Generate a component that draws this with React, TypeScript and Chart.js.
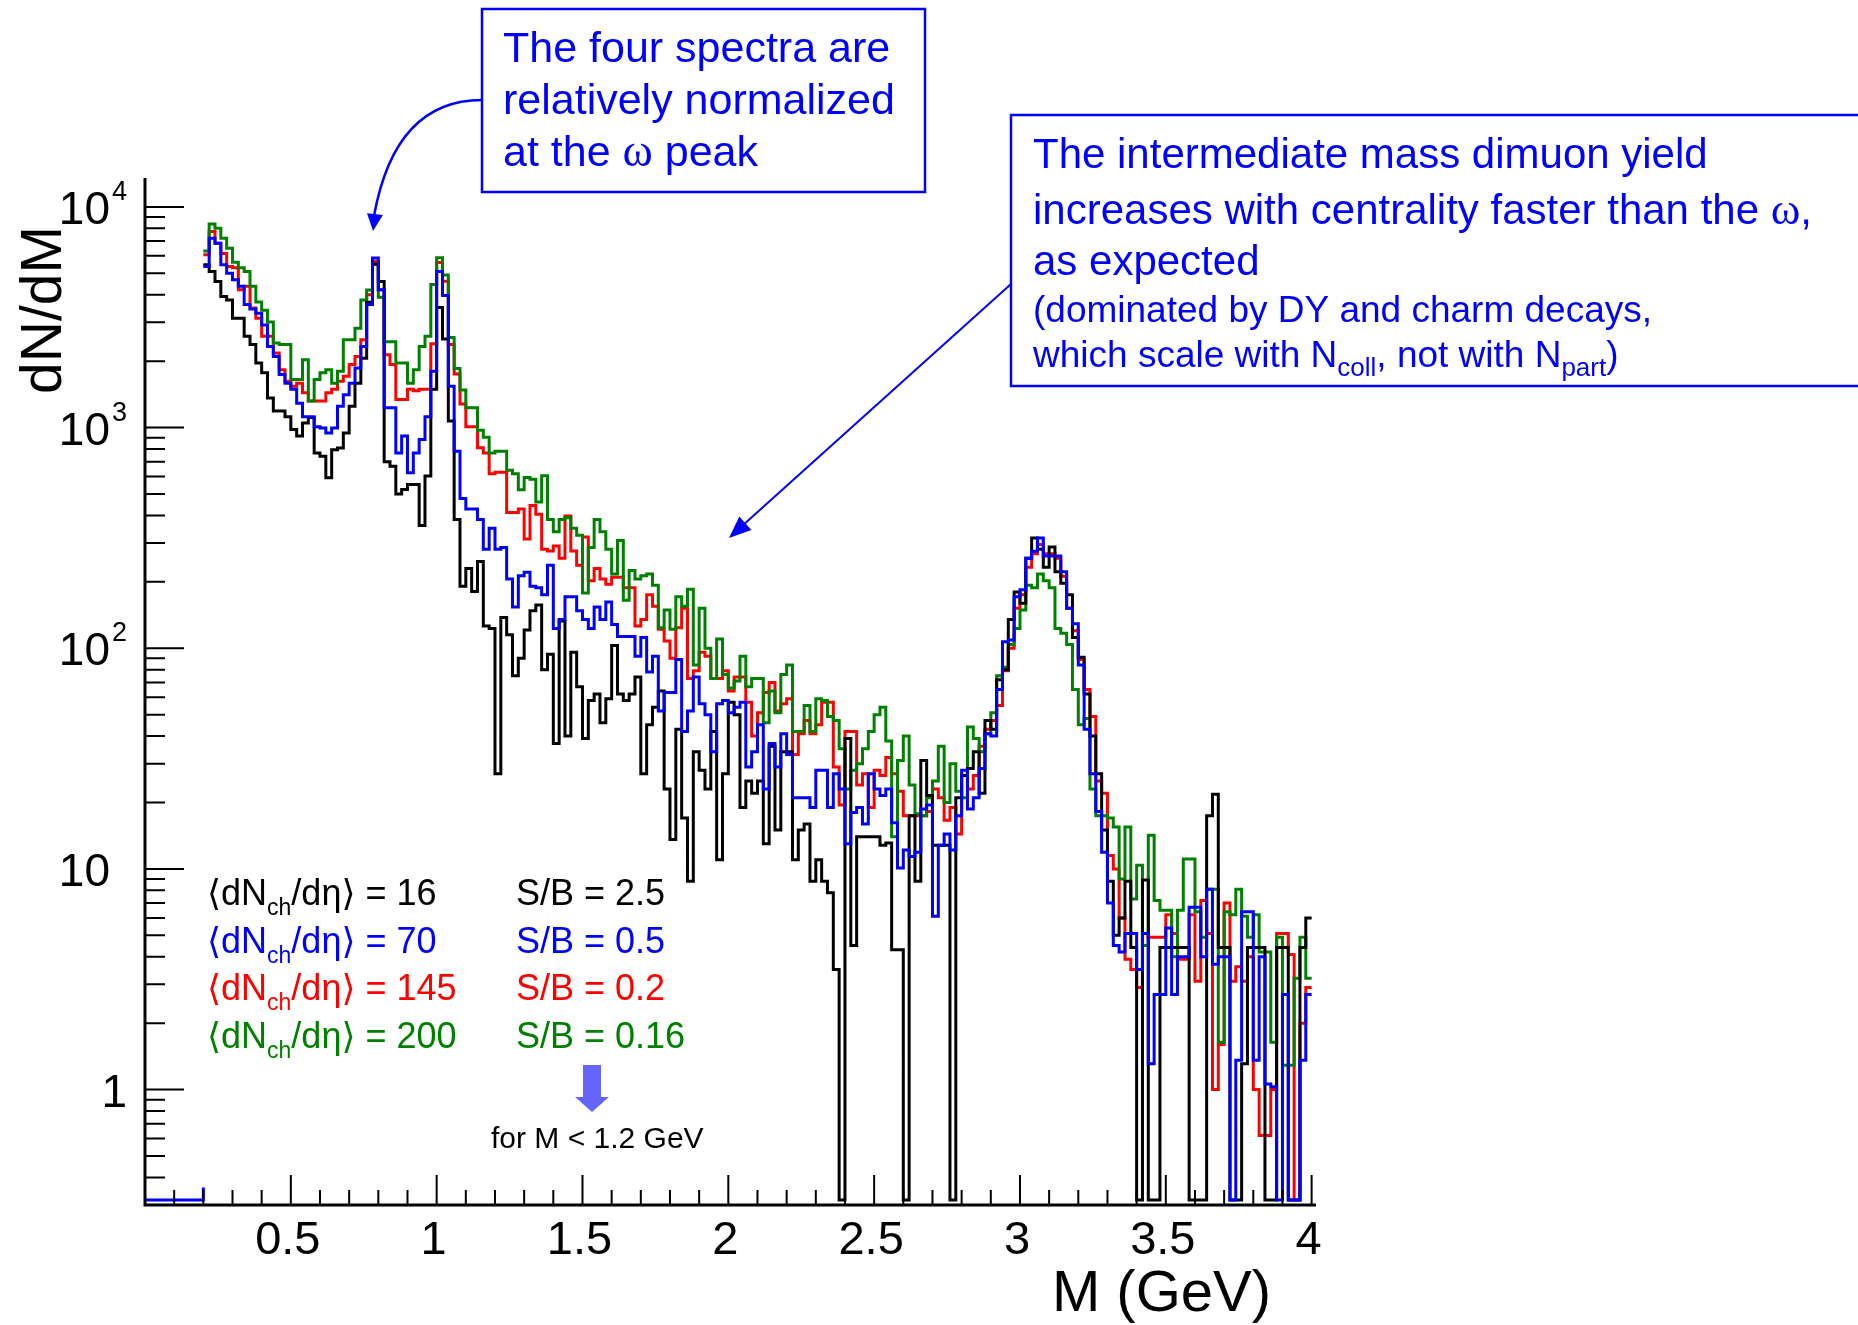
import React, { useEffect, useRef } from "react";
import { Chart, registerables } from "chart.js";

Chart.register(...registerables);

const W = 1858;
const H = 1325;
const SANS = '"Liberation Sans", Arial, "DejaVu Sans", sans-serif';
const SERIF = '"Liberation Serif", "DejaVu Serif", serif';

// ---- binning (GeV) ----
const binStart = 0.2;
const binWidth = 0.02;

// ---- dN/dM per 20 MeV bin, from 0.20 to 4.00 GeV (190 bins) ----
const greenCounts = [
  6320, 8360, 8000, 7210, 6500, 5620, 5300, 5090, 4370, 3710,
  3400, 3010, 2420, 2380, 2380, 1650, 1650, 2030, 1320, 1650,
  1770, 1830, 1590, 1800, 2500, 2500, 2820, 3790, 4200, 5500,
  3900, 2450, 2450, 1960, 1960, 1590, 1830, 2330, 2590, 4450,
  5890, 4910, 2560, 1850, 1480, 1230, 1230, 973, 904, 767,
  781, 781, 640, 617, 523, 594, 583, 460, 605, 383,
  337, 383, 390, 350, 325, 178, 286, 383, 337, 281,
  217, 308, 165, 225, 206, 213, 217, 193, 124, 149,
  122, 171, 155, 185, 84, 152, 100, 73, 110, 76,
  66, 71, 92, 67, 73, 73, 46, 64, 51, 76,
  84, 42, 42, 55, 42, 59, 58, 49, 47, 35,
  23, 28, 30, 35, 42, 50, 54, 38, 14, 31,
  40, 24, 17.8, 17.4, 21, 25, 36, 20, 30, 22.5,
  21, 44, 39, 34, 41, 51, 75, 82, 104, 123,
  149, 193, 188, 217, 202, 188, 123, 117, 104, 65,
  45, 48, 23, 17.4, 17.4, 17, 15.5, 9, 15.5, 7.3,
  10.4, 4.5, 14.2, 7.2, 6.5, 6.5, 4.0, 6.5, 11.1, 11.1,
  6.4, 4.9, 8.1, 8.1, 1.64, 6.4, 6.2, 8.1, 6.1, 4.9,
  6.2, 4.2, 4.2, 1.64, 4.9, 1.29, 1.29, 3.2, 4.9, 3.2,
];

const blueCounts = [
  5370, 7210, 6850, 5470, 5010, 4680, 4370, 3610, 3450, 3300,
  2920, 2330, 2100, 1740, 1590, 1490, 1290, 1120, 1120, 1010,
  995, 945, 995, 1250, 1410, 1590, 1860, 2330, 3610, 5860,
  4210, 1230, 1230, 767, 915, 624, 767, 883, 1120, 1800,
  5090, 3970, 1540, 781, 477, 428, 428, 383, 281, 350,
  281, 286, 206, 154, 213, 221, 191, 188, 175, 238,
  123, 135, 171, 171, 148, 135, 123, 154, 135, 162,
  128, 113, 113, 113, 92, 112, 78, 92, 52, 63,
  63, 89, 42, 52, 74, 56, 50, 34, 56, 58,
  51, 54, 57, 29, 34, 45, 23, 37, 29, 41,
  33, 21, 21, 21, 19, 28, 28, 19, 27, 23,
  13, 18, 19, 16, 27, 23, 21.5, 23, 16.2, 10.1,
  12.2, 11.4, 11.9, 18.7, 19.5, 6.1, 12.8, 14.4, 12.2, 17.4,
  28, 18.7, 21, 28.5, 41, 40, 65, 107, 109, 171,
  184, 256, 275, 316, 262, 262, 262, 222, 152, 129,
  84, 43, 27, 18.2, 11.9, 7, 4.5, 4.2, 5.1, 5.1,
  3.5, 5.1, 1.31, 2.7, 2.7, 5.4, 2.7, 4.0, 4.0, 6.7,
  6.7, 4.0, 8.1, 3.7, 4.0, 4.0, 0, 1.36, 6.4, 6.4,
  1.36, 4.0, 1.06, 1.03, 0, 2.7, 0, 0, 1.36, 2.7,
];

const redCounts = [
  6070, 7730, 6850, 6150, 5370, 5300, 4210, 4370, 3480, 3130,
  2590, 2590, 2180, 1830, 1620, 1540, 1590, 1440, 1320, 1320,
  1320, 1440, 1490, 1620, 1710, 1930, 2100, 2500, 4000, 5650,
  4210, 2140, 1930, 1340, 1340, 1490, 1470, 1490, 1490, 2400,
  5600, 4600, 2380, 1750, 1280, 1010, 1010, 810, 767, 617,
  628, 628, 412, 412, 428, 313, 444, 405, 281, 276,
  291, 256, 397, 276, 238, 319, 202, 230, 206, 195,
  210, 210, 188, 188, 126, 135, 175, 155, 122, 108,
  90, 124, 152, 73, 79, 96, 92, 73, 73, 79,
  64, 74, 74, 57, 40, 51, 63, 70, 52, 56,
  59, 33, 41, 47, 41, 45, 57, 57, 29, 19.5,
  42, 42, 24, 27, 19, 28, 26.5, 32, 27, 22.5,
  17.4, 17.4, 17.4, 17.4, 18.2, 23, 21, 16.6, 19, 14.4,
  26.5, 23, 26.5, 36, 43, 47, 55, 79, 100, 152,
  175, 233, 268, 295, 268, 268, 256, 212, 152, 120,
  89, 65, 49, 25, 22, 11.5, 10, 6.0, 3.9, 3.5,
  2.9, 5.1, 4.9, 4.9, 4.9, 6.2, 5.1, 3.9, 3.9, 6.2,
  3.1, 7.2, 5.1, 1.0, 1.6, 7.0, 3.1, 3.6, 3.1, 4.0,
  1.0, 0.62, 0.62, 1.0, 5.1, 5.1, 4.1, 0, 2.0, 2.9,
];

const blackCounts = [
  5470, 5090, 4590, 3930, 3790, 3130, 3130, 2590, 2380, 1960,
  1770, 1360, 1190, 1190, 1120, 980, 915, 1050, 1110, 767,
  741, 592, 794, 809, 945, 1250, 1590, 2060, 3700, 5500,
  4590, 700, 668, 500, 524, 552, 552, 360, 603, 1490,
  3500, 2520, 1070, 383, 191, 230, 181, 247, 126, 123,
  27, 138, 115, 75, 90, 121, 148, 157, 80, 94,
  37, 133, 40, 96, 67, 39, 58, 62, 46, 59,
  103, 62, 58, 62, 74, 27, 45, 54, 64, 23,
  13.6, 43, 17, 8.8, 34, 28, 23, 42, 11, 27,
  57, 50, 19, 25, 22, 25, 13, 36, 15, 34,
  34, 11, 15, 16, 8.8, 11, 8.8, 7.8, 3.5, 0,
  39, 4.5, 14, 14, 14, 14, 12.8, 13.1, 4.3, 4.3,
  0, 17.4, 8.8, 31, 21.5, 12.8, 12.8, 12.8, 0, 21,
  26.5, 28.5, 34, 22, 47, 43, 72, 80, 135, 180,
  160, 256, 316, 281, 233, 288, 222, 197, 175, 112,
  91, 62, 40, 27, 15, 8.8, 5, 6, 8.8, 4.4,
  0, 8.9, 0, 0, 4.4, 4.4, 4.4, 4.4, 4.4, 0,
  0, 0, 17.4, 21.8, 4.4, 4.4, 0, 0, 1.31, 4.4,
  4.4, 4.4, 0, 0, 4.4, 4.4, 0, 0, 4.4, 6.0,
];

// empty region below the first filled bin (blue histogram)
const underflowEdges = [0, 0.2];
const underflowStub = 0.36;

// ---- axes ----
const xMin = 0;
const xMax = 4.015;
const yMin = 0.305;
const yMax = 13520;
const xTickStep = 0.1;
const xTickLast = 4.0;
const xLabelValues = [0.5, 1, 1.5, 2, 2.5, 3, 3.5, 4];
const xLabelTexts = ["0.5", "1", "1.5", "2", "2.5", "3", "3.5", "4"];
const yDecadeValues = [1, 10, 100, 1000, 10000];
const yDecadeBases = ["1", "10", "10", "10", "10"];
const yDecadeExps = ["", "", "2", "3", "4"];

// ---- legend ----
const legendMult = ["16", "70", "145", "200"];
const legendSB = ["2.5", "0.5", "0.2", "0.16"];
const legendColors = ["#000000", "#0000ff", "#ff0000", "#008000"];

const ZERO_LEVEL = 0.316; // empty bins are drawn along the bottom of the frame

function histPoints(vals: number[]) {
  const pts = vals.map((v, i) => ({
    x: +(binStart + i * binWidth).toFixed(4),
    y: v > 0 ? v : ZERO_LEVEL,
  }));
  pts.push({ x: +(binStart + vals.length * binWidth).toFixed(4), y: pts[pts.length - 1].y });
  return pts;
}

type Seg = { t: string; font: string; dy?: number };
function drawSegs(ctx: CanvasRenderingContext2D, x: number, y: number, segs: Seg[]) {
  let cx = x;
  for (const s of segs) {
    ctx.font = s.font;
    ctx.fillText(s.t, cx, y + (s.dy || 0));
    cx += ctx.measureText(s.t).width;
  }
  return cx;
}

function arrowHead(ctx: CanvasRenderingContext2D, tipX: number, tipY: number, fromX: number, fromY: number, len: number, half: number) {
  const dx = tipX - fromX, dy = tipY - fromY;
  const d = Math.hypot(dx, dy) || 1;
  const ux = dx / d, uy = dy / d;
  const bx = tipX - ux * len, by = tipY - uy * len;
  ctx.beginPath();
  ctx.moveTo(tipX, tipY);
  ctx.lineTo(bx - uy * half, by + ux * half);
  ctx.lineTo(bx + uy * half, by - ux * half);
  ctx.closePath();
  ctx.fill();
}

const overlay = {
  id: "overlay",
  afterDraw(chart: any) {
    const ctx: CanvasRenderingContext2D = chart.ctx;
    const a = chart.chartArea;
    const xs = chart.scales.x;
    const ys = chart.scales.y;
    ctx.save();
    ctx.fillStyle = "#000";
    ctx.strokeStyle = "#000";

    // axis lines
    ctx.lineWidth = 3;
    ctx.beginPath();
    ctx.moveTo(a.left, a.top);
    ctx.lineTo(a.left, a.bottom + 1.5);
    ctx.moveTo(a.left - 1.5, a.bottom);
    ctx.lineTo(a.right, a.bottom);
    ctx.stroke();

    // x ticks (inside)
    ctx.lineWidth = 2;
    ctx.beginPath();
    const nT = Math.round(xTickLast / xTickStep);
    for (let i = 1; i <= nT; i++) {
      const px = xs.getPixelForValue(i * xTickStep);
      const len = i % 5 === 0 ? 30 : 15;
      ctx.moveTo(px, a.bottom);
      ctx.lineTo(px, a.bottom - len);
    }
    // y ticks (inside)
    for (let d = 0.1; d <= 10000; d *= 10) {
      for (let m = 1; m <= 9; m++) {
        const v = m * d;
        if (v < yMin || v > yMax) continue;
        const py = ys.getPixelForValue(v);
        const len = m === 1 ? 39 : 20;
        ctx.moveTo(a.left, py);
        ctx.lineTo(a.left + len, py);
      }
    }
    ctx.stroke();

    // x labels
    ctx.textAlign = "center";
    ctx.textBaseline = "alphabetic";
    ctx.font = `47px ${SANS}`;
    xLabelValues.forEach((v, i) => {
      ctx.fillText(xLabelTexts[i], xs.getPixelForValue(v) - 3, 1254);
    });

    // y labels
    yDecadeValues.forEach((v, i) => {
      const py = ys.getPixelForValue(v);
      ctx.font = `46px ${SANS}`;
      if (yDecadeExps[i]) {
        ctx.textAlign = "right";
        ctx.fillText(yDecadeBases[i], 110, py + 17);
        ctx.textAlign = "left";
        ctx.font = `27px ${SANS}`;
        ctx.fillText(yDecadeExps[i], 112, py - 7);
      } else {
        ctx.textAlign = "right";
        ctx.fillText(yDecadeBases[i], yDecadeBases[i].length > 1 ? 110 : 127, py + 17);
      }
    });

    // axis titles
    ctx.save();
    ctx.translate(61, 310);
    ctx.rotate(-Math.PI / 2);
    ctx.textAlign = "center";
    ctx.font = `57px ${SANS}`;
    ctx.fillText("dN/dM", 0, 0);
    ctx.restore();
    ctx.textAlign = "right";
    ctx.font = `58px ${SANS}`;
    ctx.fillText("M (GeV)", 1271, 1311);

    // legend
    ctx.textAlign = "left";
    const f = `36px ${SANS}`;
    const fs = `23px ${SANS}`;
    legendMult.forEach((n, i) => {
      const y = 905 + i * 47.7;
      ctx.fillStyle = legendColors[i];
      drawSegs(ctx, 207, y, [
        { t: "\u27E8dN", font: f },
        { t: "ch", font: fs, dy: 10 },
        { t: "/d\u03B7\u27E9 = " + n, font: f },
      ]);
      drawSegs(ctx, 516, y, [{ t: "S/B = " + legendSB[i], font: f }]);
    });

    // S/B arrow and note
    ctx.fillStyle = "#6666ff";
    ctx.fillRect(583, 1065, 18, 33);
    ctx.beginPath();
    ctx.moveTo(575, 1097);
    ctx.lineTo(609, 1097);
    ctx.lineTo(592, 1112);
    ctx.closePath();
    ctx.fill();
    ctx.fillStyle = "#000";
    ctx.font = `30px ${SANS}`;
    ctx.fillText("for M < 1.2 GeV", 491, 1148);

    // annotation box 1
    const blue = "#0000ff";
    ctx.strokeStyle = blue;
    ctx.fillStyle = blue;
    ctx.lineWidth = 2.5;
    ctx.strokeRect(482, 9, 443, 183);
    const fb = `43px ${SANS}`;
    drawSegs(ctx, 503, 62, [{ t: "The four spectra are", font: fb }]);
    drawSegs(ctx, 503, 114, [{ t: "relatively normalized", font: fb }]);
    drawSegs(ctx, 503, 166, [
      { t: "at the ", font: fb },
      { t: "\u03C9", font: `46px ${SERIF}` },
      { t: " peak", font: fb },
    ]);
    // curved arrow
    ctx.lineWidth = 2.5;
    ctx.beginPath();
    ctx.moveTo(482, 100);
    ctx.quadraticCurveTo(395, 100, 374, 216);
    ctx.stroke();
    arrowHead(ctx, 373, 231, 376, 205, 17, 8);

    // annotation box 2
    ctx.lineWidth = 2.5;
    ctx.strokeRect(1011, 115, 880, 271);
    const fm = `42px ${SANS}`;
    const fsm = `37px ${SANS}`;
    const fsub = `26px ${SANS}`;
    drawSegs(ctx, 1033, 168, [{ t: "The intermediate mass dimuon yield", font: fm }]);
    drawSegs(ctx, 1033, 224, [
      { t: "increases with centrality faster than the ", font: fm },
      { t: "\u03C9", font: `45px ${SERIF}` },
      { t: ",", font: fm },
    ]);
    drawSegs(ctx, 1033, 275, [{ t: "as expected", font: fm }]);
    drawSegs(ctx, 1033, 322, [{ t: "(dominated by DY and charm decays,", font: fsm }]);
    drawSegs(ctx, 1033, 367, [
      { t: "which scale with N", font: fsm },
      { t: "coll", font: fsub, dy: 9 },
      { t: ", not with N", font: fsm },
      { t: "part", font: fsub, dy: 9 },
      { t: ")", font: fsm },
    ]);
    // straight arrow
    ctx.lineWidth = 2;
    ctx.beginPath();
    ctx.moveTo(1011, 284);
    ctx.lineTo(742, 526);
    ctx.stroke();
    arrowHead(ctx, 729, 538, 1011, 284, 22, 9);

    ctx.restore();
  },
};

export default function App() {
  const ref = useRef<HTMLCanvasElement | null>(null);

  useEffect(() => {
    if (!ref.current) return;
    const common = {
      borderWidth: 3,
      stepped: true,
      pointRadius: 0,
      fill: false,
      tension: 0,
    };
    const chart = new Chart(ref.current, {
      type: "line",
      data: {
        datasets: [
          { ...common, label: "<dNch/deta> = 70", data: histPoints(blueCounts), borderColor: "#0000ff", order: 0 },
          { ...common, label: "underflow", data: [
              { x: underflowEdges[0], y: ZERO_LEVEL },
              { x: underflowEdges[1], y: ZERO_LEVEL },
              { x: underflowEdges[1], y: underflowStub },
            ], borderColor: "#0000ff", stepped: false, order: 0 },
          { ...common, label: "<dNch/deta> = 16", data: histPoints(blackCounts), borderColor: "#000000", order: 1 },
          { ...common, label: "<dNch/deta> = 200", data: histPoints(greenCounts), borderColor: "#008000", order: 2 },
          { ...common, label: "<dNch/deta> = 145", data: histPoints(redCounts), borderColor: "#ff0000", order: 3 },
        ] as any,
      },
      options: {
        animation: false,
        responsive: false,
        maintainAspectRatio: false,
        layout: { padding: { left: 145, top: 178, right: W - 1316, bottom: H - 1205 } },
        scales: {
          x: { type: "linear", min: xMin, max: xMax, display: false },
          y: { type: "logarithmic", min: yMin, max: yMax, display: false },
        },
        plugins: { legend: { display: false }, tooltip: { enabled: false } },
        elements: { line: { borderJoinStyle: "miter", borderCapStyle: "butt" } },
      },
      plugins: [overlay],
    });
    return () => chart.destroy();
  }, []);

  return (
    <div style={{ position: "absolute", left: 0, top: 0, width: W, height: H, background: "#fff", overflow: "hidden" }}>
      <canvas ref={ref} width={W} height={H} style={{ display: "block", width: W, height: H }} />
    </div>
  );
}
